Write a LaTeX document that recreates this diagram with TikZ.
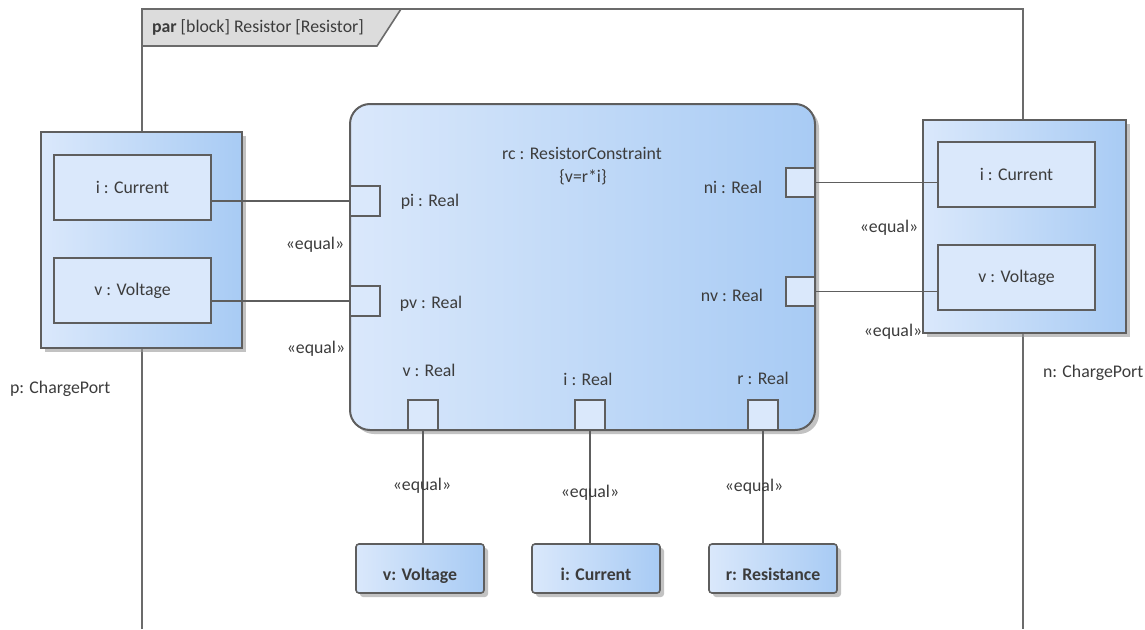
\documentclass[tikz,border=0pt]{standalone}
\usepackage{fontspec}
\setmainfont{Carlito}
\usetikzlibrary{shadows}
\definecolor{bl1}{HTML}{DAE8FB}
\definecolor{bl2}{HTML}{A8CBF4}
\definecolor{ln}{HTML}{5E5E5E}
\definecolor{tx}{HTML}{3C3C3C}
\definecolor{tabg}{HTML}{DCDCDC}
\begin{document}
\begin{tikzpicture}[x=1pt,y=-1pt,
  every node/.style={font=\fontsize{17.8}{21}\selectfont, text=tx, inner sep=0pt, outer sep=0pt},
  shd/.style={drop shadow={shadow xshift=4pt, shadow yshift=-4pt, fill=black!40, opacity=0.6}},
  grad/.style={left color=bl1, middle color=bl1!88!bl2, right color=bl2},
  portblk/.style={draw=ln, line width=2pt, grad, shd, anchor=north west},
  part/.style={draw=ln, line width=1.8pt, fill=bl1, anchor=north west, minimum width=157pt, minimum height=65pt},
  sq/.style={draw=ln, line width=1.6pt, fill=bl1, minimum width=30pt, minimum height=30pt, anchor=north west},
  conn/.style={draw=ln, line width=1.5pt},
  frm/.style={draw=black!58, line width=2pt},
  val/.style={draw=ln, line width=1.6pt, grad, shd, rounded corners=3pt, anchor=north west, minimum width=128pt, minimum height=49pt, font=\fontsize{17.8}{21}\selectfont\bfseries}
]
\useasboundingbox (0,0) rectangle (1145,629);

% frame
\draw[frm] (142,629) -- (142,9) -- (1023,9) -- (1023,629);
\draw[draw=black!58, line width=1.6pt, fill=tabg] (142,9) -- (401,9) -- (377,46) -- (142,46) -- cycle;
\node[anchor=west] (title) at (152,27) {\textbf{par} [block] Resistor [Resistor]};

% left port block
\node[portblk, minimum width=201pt, minimum height=216pt] (pP) at (41,132) {};
\node[part] (ip) at (54,155) {i : Current};
\node[part] (vp) at (54,258) {v : Voltage};
\node[anchor=west] (pPl) at (10,389) {p: ChargePort};

% right port block
\node[portblk, minimum width=203pt, minimum height=213pt] (nP) at (923,120) {};
\node[part] (in) at (938,142) {i : Current};
\node[part] (vn) at (938,245) {v : Voltage};
\node[anchor=west] (nPl) at (1043,373) {n: ChargePort};

% constraint block
\node[draw=ln, line width=2pt, grad, shd, rounded corners=20pt, anchor=north west, minimum width=465pt, minimum height=326pt] (rc) at (350,104) {};
\node (rct) at (582,153) {rc : ResistorConstraint};
\node (rcc) at (583,177) {\{v=r*i\}};

% ports
\node[sq] (pi) at (350,186) {};
\node[sq] (pv) at (350,286) {};
\node[sq, minimum width=29pt, minimum height=29pt] (ni) at (786,168) {};
\node[sq, minimum width=29pt, minimum height=29pt] (nv) at (786,277) {};
\node[sq] (bv) at (408,400) {};
\node[sq] (bi) at (575,400) {};
\node[sq] (br) at (748,400) {};

\node (pil) at (430,202) {pi : Real};
\node (pvl) at (431,304) {pv : Real};
\node (nil) at (733,187) {ni : Real};
\node (nvl) at (732,295) {nv : Real};
\node (bvl) at (429,370) {v : Real};
\node (bil) at (588,379) {i : Real};
\node (brl) at (763,378) {r : Real};

% value nodes
\node[val] (vV) at (356,544) {\raisebox{-12pt}[0pt][0pt]{v: Voltage}};
\node[val] (iC) at (532,544) {\raisebox{-12pt}[0pt][0pt]{i: Current}};
\node[val] (rR) at (709,544) {\raisebox{-12pt}[0pt][0pt]{r: Resistance}};

% connectors
\draw[conn] (ip.east |- pi) -- (pi.west);
\draw[conn] (vp.east |- pv) -- (pv.west);
\draw[conn] (ni.east) -- (ni.east -| in.west);
\draw[conn] (nv.east) -- (nv.east -| vn.west);
\draw[conn] (bv.south) -- (bv.south |- vV.north);
\draw[conn] (bi.south) -- (bi.south |- iC.north);
\draw[conn] (br.south) -- (br.south |- rR.north);

% labels
\node (e1) at (315,245) {«equal»};
\node (e2) at (316,349) {«equal»};
\node (e3) at (889,228) {«equal»};
\node (e4) at (893,332) {«equal»};
\node (e5) at (422,486) {«equal»};
\node (e6) at (590,493) {«equal»};
\node (e7) at (754,487) {«equal»};
\end{tikzpicture}
\end{document}
